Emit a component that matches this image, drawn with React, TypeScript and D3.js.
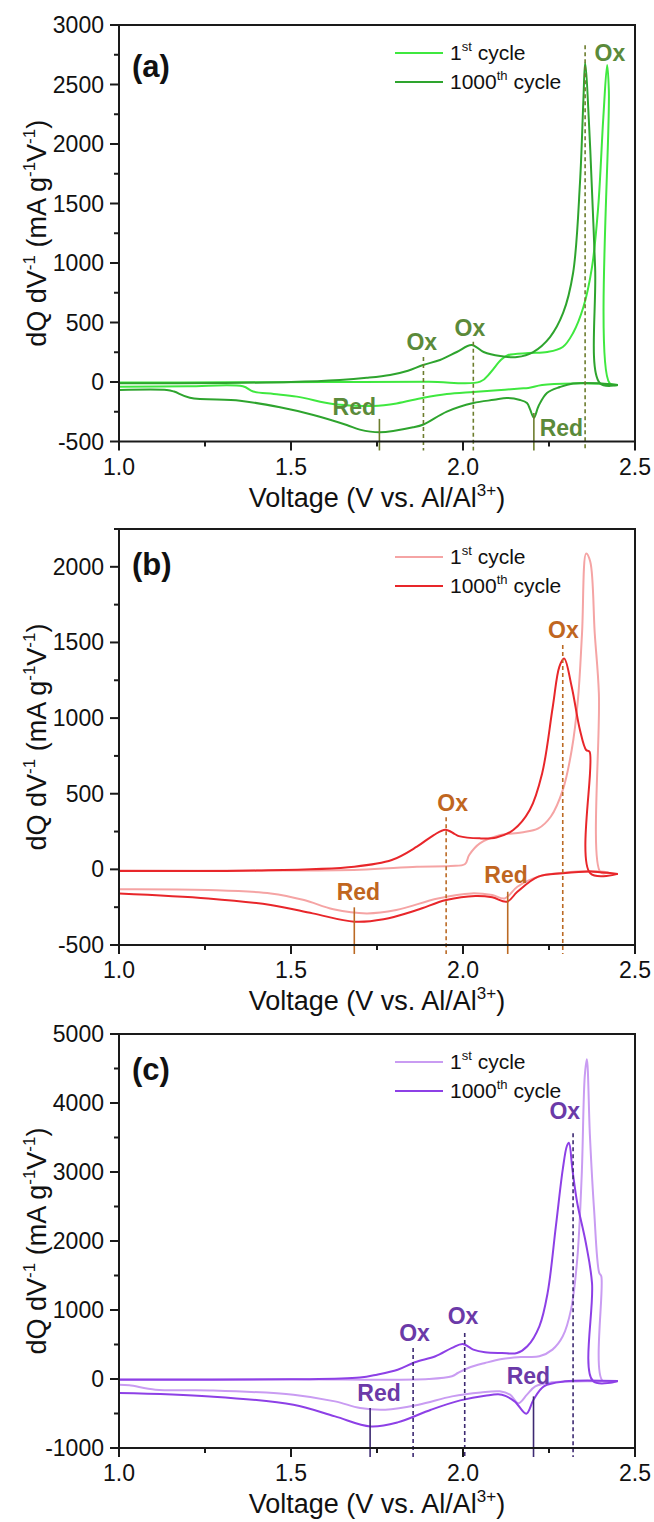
import React from "react";
import * as d3 from "d3";

// dQ/dV curves: [voltage, dQ/dV]
const aFirstCharge = [[1.0,-5],[1.3,-3],[1.6,0],[1.9,2],[2.05,3],[2.08,80],[2.11,185],[2.13,225],[2.19,243],[2.245,252],[2.29,294],[2.32,412],[2.35,630],[2.375,966],[2.393,1470],[2.408,2227],[2.419,2664],[2.424,2450],[2.426,-10],[2.45,-25]];
const aFirstDischarge = [[2.45,-25],[2.40,-15],[2.32,-12],[2.23,-25],[2.19,-50],[2.166,-55],[2.10,-70],[2.03,-84],[1.953,-101],[1.885,-132],[1.807,-180],[1.738,-202],[1.68,-198],[1.622,-185],[1.517,-123],[1.45,-100],[1.39,-80],[1.36,-36],[1.2,-36],[1.0,-39]];
const aLastCharge = [[1.0,-10],[1.3,-8],[1.5,0],[1.642,17],[1.72,35],[1.788,59],[1.84,95],[1.884,143],[1.933,185],[1.982,252],[2.025,311],[2.06,252],[2.108,218],[2.157,210],[2.204,252],[2.253,378],[2.291,580],[2.32,916],[2.34,1672],[2.35,2370],[2.355,2680],[2.37,1950],[2.384,966],[2.398,-10],[2.45,-25]];
const aLastDischarge = [[2.45,-25],[2.40,-12],[2.32,-12],[2.282,-42],[2.244,-92],[2.22,-200],[2.206,-300],[2.195,-230],[2.186,-177],[2.166,-151],[2.128,-134],[2.09,-150],[2.03,-177],[1.953,-249],[1.885,-357],[1.855,-381],[1.758,-423],[1.7,-400],[1.662,-361],[1.565,-277],[1.468,-213],[1.352,-157],[1.206,-132],[1.16,-80],[1.139,-67],[1.0,-67]];

const bFirstCharge = [[1.0,-8],[1.4,-8],[1.7,-2],[1.866,18],[1.964,22],[2.006,35],[2.018,95],[2.049,172],[2.109,227],[2.17,244],[2.219,271],[2.255,348],[2.29,524],[2.316,789],[2.334,1119],[2.346,1559],[2.358,2088],[2.37,2033],[2.383,1559],[2.395,1163],[2.40,-20],[2.423,-20]];
const bFirstDischarge = [[2.423,-20],[2.377,-11],[2.29,-22],[2.219,-48],[2.158,-115],[2.121,-192],[2.085,-170],[2.024,-159],[1.927,-192],[1.806,-269],[1.72,-291],[1.623,-264],[1.538,-203],[1.441,-159],[1.259,-137],[1.0,-132]];
const bLastCharge = [[1.0,-10],[1.4,-8],[1.684,18],[1.793,62],[1.866,150],[1.915,227],[1.949,262],[1.975,235],[1.988,220],[2.049,205],[2.097,211],[2.146,260],[2.194,392],[2.23,634],[2.261,1075],[2.28,1339],[2.294,1394],[2.316,1207],[2.34,921],[2.358,789],[2.368,778],[2.37,-26],[2.45,-30]];
const bLastDischarge = [[2.45,-30],[2.377,-15],[2.29,-26],[2.219,-48],[2.158,-148],[2.128,-214],[2.085,-185],[2.036,-176],[1.951,-203],[1.866,-269],[1.769,-330],[1.684,-346],[1.563,-291],[1.441,-236],[1.259,-192],[1.0,-159]];

const cFirstCharge = [[1.0,-5],[1.5,-3],[1.9,0],[1.968,39],[1.985,87],[2.015,160],[2.064,232],[2.113,290],[2.174,319],[2.222,329],[2.26,426],[2.29,619],[2.314,1006],[2.332,1732],[2.345,2941],[2.354,4393],[2.36,4635],[2.369,3522],[2.381,2458],[2.396,1538],[2.402,1490],[2.406,-30],[2.45,-30]];
const cFirstDischarge = [[2.45,-30],[2.355,-34],[2.258,-48],[2.21,-106],[2.186,-227],[2.161,-350],[2.137,-227],[2.107,-179],[2.052,-194],[1.968,-252],[1.871,-373],[1.774,-445],[1.701,-421],[1.628,-324],[1.507,-227],[1.264,-165],[1.106,-155],[1.03,-90],[1.0,-82]];
const cLastCharge = [[1.0,-10],[1.5,-5],[1.7,20],[1.75,63],[1.81,135],[1.86,242],[1.92,329],[1.968,450],[1.999,508],[2.03,426],[2.064,387],[2.113,377],[2.157,377],[2.187,474],[2.222,764],[2.246,1248],[2.27,2216],[2.29,3038],[2.302,3377],[2.308,3425],[2.318,3038],[2.332,2555],[2.357,1974],[2.375,1393],[2.378,-30],[2.45,-30]];
const cLastDischarge = [[2.45,-30],[2.296,-34],[2.235,-106],[2.205,-300],[2.184,-503],[2.15,-324],[2.113,-227],[2.064,-242],[1.992,-310],[1.907,-445],[1.81,-629],[1.731,-687],[1.628,-542],[1.507,-373],[1.264,-252],[1.0,-203]];

// axes
const xTicks = [1.0, 1.5, 2.0, 2.5];
const xMinorTicks = [1.25, 1.75, 2.25];
const aYTicks = [-500, 0, 500, 1000, 1500, 2000, 2500, 3000];
const bYTicks = [-500, 0, 500, 1000, 1500, 2000];
const cYTicks = [-1000, 0, 1000, 2000, 3000, 4000, 5000];

// peak markers: [voltage, top value]
const aOxLines = [[2.355, 2830], [2.03, 338], [1.885, 210]];
const aRedLines = [[1.757, -310], [2.206, -260]];
const aLabels = [["Ox", 2.427, 2765], ["Ox", 2.02, 454], ["Ox", 1.88, 336], ["Red", 1.684, -213], ["Red", 2.286, -389]];
const bOxLines = [[1.951, 345], [2.29, 1483]];
const bRedLines = [[1.684, -251], [2.13, -148]];
const bLabels = [["Ox", 1.97, 436], ["Ox", 2.292, 1581], ["Red", 1.696, -148], ["Red", 2.125, -37]];
const cOxLines = [[1.855, 450], [2.005, 668], [2.32, 3560]];
const cRedLines = [[1.73, -421], [2.205, -252]];
const cLabels = [["Ox", 1.859, 668], ["Ox", 2.0, 910], ["Ox", 2.296, 3885], ["Red", 1.756, -203], ["Red", 2.19, 48]];

const FONT = "'Liberation Sans', Arial, sans-serif";
const X0 = 119, X1 = 635;

function Panel({ top, bottom, yDomain, yTicks, yMinor, tag, tagY, first, last, c1, c2, oxLines, redLines, labels, txtColor, markColor }) {
  const x = d3.scaleLinear().domain([1.0, 2.5]).range([X0, X1]);
  const y = d3.scaleLinear().domain(yDomain).range([bottom, top]);
  const line = d3.line().x(d => x(d[0])).y(d => y(d[1])).curve(d3.curveCatmullRom.alpha(0.5));
  const minors = [];
  for (let i = 0; i < yTicks.length - 1; i++) minors.push((yTicks[i] + yTicks[i + 1]) / 2);
  if (yMinor) minors.push(yMinor);
  const axisBottom = bottom + 9;
  const midY = (top + bottom) / 2;
  return (
    <g>
      {/* marker shadows */}
      {[...oxLines, ...redLines].map((m, i) => (
        <line key={"s" + i} x1={x(m[0]) + 3.5} x2={x(m[0]) + 3.5} y1={y(m[1])} y2={axisBottom}
          stroke="#8a8a8a" strokeWidth={5} opacity={0.4} filter="url(#blur)" />
      ))}
      <path d={line(first[0])} fill="none" stroke={c1} strokeWidth={2} />
      <path d={line(first[1])} fill="none" stroke={c1} strokeWidth={2} />
      <path d={line(last[0])} fill="none" stroke={c2} strokeWidth={2} />
      <path d={line(last[1])} fill="none" stroke={c2} strokeWidth={2} />
      {oxLines.map((m, i) => (
        <line key={"o" + i} x1={x(m[0])} x2={x(m[0])} y1={y(m[1])} y2={axisBottom}
          stroke={markColor} strokeWidth={1.6} strokeDasharray="4,3" />
      ))}
      {redLines.map((m, i) => (
        <line key={"r" + i} x1={x(m[0])} x2={x(m[0])} y1={y(m[1])} y2={axisBottom}
          stroke={markColor} strokeWidth={1.6} />
      ))}
      {labels.map((l, i) => (
        <text key={"l" + i} x={x(l[1])} y={y(l[2])} fill={txtColor} fontSize={23} fontWeight="bold"
          textAnchor="middle" dominantBaseline="central">{l[0]}</text>
      ))}
      {/* frame */}
      <rect x={X0} y={top} width={X1 - X0} height={bottom - top} fill="none" stroke="#1a1a1a" strokeWidth={2} />
      {yTicks.map(t => (
        <g key={"yt" + t}>
          <line x1={X0 - 9} x2={X0} y1={y(t)} y2={y(t)} stroke="#1a1a1a" strokeWidth={2} />
          <text x={X0 - 15} y={y(t)} fontSize={23} textAnchor="end" dominantBaseline="central" fill="#111">{t}</text>
        </g>
      ))}
      {minors.map(t => (
        <line key={"ym" + t} x1={X0 - 5} x2={X0} y1={y(t)} y2={y(t)} stroke="#1a1a1a" strokeWidth={2} />
      ))}
      {xTicks.map(t => (
        <g key={"xt" + t}>
          <line x1={x(t)} x2={x(t)} y1={bottom} y2={bottom + 9} stroke="#1a1a1a" strokeWidth={2} />
          <text x={x(t)} y={bottom + 25} fontSize={23} textAnchor="middle" dominantBaseline="central" fill="#111">{t.toFixed(1)}</text>
        </g>
      ))}
      {xMinorTicks.map(t => (
        <line key={"xm" + t} x1={x(t)} x2={x(t)} y1={bottom} y2={bottom + 5} stroke="#1a1a1a" strokeWidth={2} />
      ))}
      <text x={(X0 + X1) / 2} y={bottom + 65} fontSize={27} textAnchor="middle" fill="#111">
        Voltage (V vs. Al/Al<tspan dy={-11} fontSize={17}>3+</tspan><tspan dy={11}>)</tspan>
      </text>
      <text transform={`translate(46,${midY}) rotate(-90)`} fontSize={27} textAnchor="middle" fill="#111">
        dQ dV<tspan dy={-11} fontSize={17}>-1</tspan><tspan dy={11}> (mA g</tspan><tspan dy={-11} fontSize={17}>-1</tspan><tspan dy={11}>V</tspan><tspan dy={-11} fontSize={17}>-1</tspan><tspan dy={11}>)</tspan>
      </text>
      <text x={132} y={top + tagY} fontSize={31} fontWeight="bold" fill="#111">{tag}</text>
      {/* legend */}
      <line x1={395} x2={443} y1={top + 28} y2={top + 28} stroke={c1} strokeWidth={2} />
      <line x1={395} x2={443} y1={top + 57} y2={top + 57} stroke={c2} strokeWidth={2} />
      <text x={450} y={top + 35} fontSize={21} fill="#111">1<tspan dy={-9} fontSize={13}>st</tspan><tspan dy={9}> cycle</tspan></text>
      <text x={450} y={top + 64} fontSize={21} fill="#111">1000<tspan dy={-9} fontSize={13}>th</tspan><tspan dy={9}> cycle</tspan></text>
    </g>
  );
}

export default function App() {
  return (
    <svg width={654} height={1522} style={{ position: "absolute", left: 0, top: 0, background: "#fff" }} fontFamily={FONT}>
      <defs>
        <filter id="blur" x="-100%" y="-5%" width="300%" height="110%">
          <feGaussianBlur stdDeviation={1.8} />
        </filter>
      </defs>
      <rect width={654} height={1522} fill="#fff" />
      <Panel top={25} bottom={441.5} yDomain={[-500, 3000]} yTicks={aYTicks} tag="(a)" tagY={52}
        first={[aFirstCharge, aFirstDischarge]} last={[aLastCharge, aLastDischarge]}
        c1="#3fe83f" c2="#2ea42e" oxLines={aOxLines} redLines={aRedLines} labels={aLabels}
        txtColor="#5b8a3a" markColor="#6d7d2e" />
      <Panel top={529} bottom={945} yDomain={[-500, 2250]} yTicks={bYTicks} yMinor={2250} tag="(b)" tagY={46}
        first={[bFirstCharge, bFirstDischarge]} last={[bLastCharge, bLastDischarge]}
        c1="#f5a4a4" c2="#e8262a" oxLines={bOxLines} redLines={bRedLines} labels={bLabels}
        txtColor="#c0661f" markColor="#bb6a24" />
      <Panel top={1034} bottom={1448} yDomain={[-1000, 5000]} yTicks={cYTicks} tag="(c)" tagY={46}
        first={[cFirstCharge, cFirstDischarge]} last={[cLastCharge, cLastDischarge]}
        c1="#c99cf2" c2="#8d40e6" oxLines={cOxLines} redLines={cRedLines} labels={cLabels}
        txtColor="#6b3aa8" markColor="#3d2a72" />
    </svg>
  );
}
